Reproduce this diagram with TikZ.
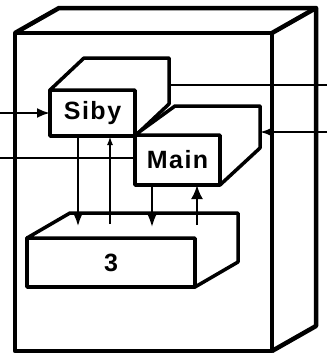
\documentclass[tikz,border=0pt]{standalone}
\usepackage{fontspec}
\setmainfont{Liberation Sans}
\usetikzlibrary{arrows.meta,calc}
\begin{document}
\begin{tikzpicture}[x=1pt,y=-1pt,
  face/.style={draw,fill=white,line width=3.5pt,inner sep=0pt,outer sep=0pt,line join=round},
  outerface/.style={draw,line width=4.5pt,inner sep=0pt,outer sep=0pt,line join=round},
  conn/.style={line width=2.5pt},
  head/.style={-{Latex[length=13pt,width=10pt]}},
  lbl/.style={font=\fontsize{25}{25}\selectfont\bfseries\addfontfeature{LetterSpace=6}}
]
\useasboundingbox (0,0) rectangle (327,359);
% outer box
\node[outerface,minimum width=257pt,minimum height=318pt] (outer) at (143.5,192) {};
\draw[line width=4.5pt,line join=round] (outer.north west) -- ++(44,-25) -- ($(outer.north east)+(44,-25)$) -- ($(outer.south east)+(44,-25)$) -- (outer.south east);
\draw[line width=4.5pt] (outer.north east) -- ++(44,-25);
% box 3
\node[face,minimum width=168pt,minimum height=49pt,lbl] (three) at (111,262.5) {3};
\filldraw[fill=white,line width=3.5pt,line join=round] (three.north west) -- ++(43,-25) -- ($(three.north east)+(43,-25)$) -- ($(three.south east)+(43,-25)$) -- (three.south east) -- (three.north east) -- cycle;
% Siby
\node[face,minimum width=85pt,minimum height=46pt,lbl] (siby) at (92.5,113) {Siby};
\filldraw[fill=white,line width=3.5pt,line join=round] (siby.north west) -- ++(34,-32) -- ($(siby.north east)+(34,-32)$) -- ($(siby.south east)+(34,-32)$) -- (siby.south east) -- (siby.north east) -- cycle;
% Main
\node[face,minimum width=85pt,minimum height=50pt,lbl] (main) at (177.5,160) {Main};
\filldraw[fill=white,line width=3.5pt,line join=round] (main.north west) -- ++(40,-29) -- ($(main.north east)+(40,-29)$) -- ($(main.south east)+(40,-37)$) -- (main.south east) -- (main.north east) -- cycle;
% connectors
\coordinate (lin1) at (0,113);
\coordinate (lin2) at (0,158);
\coordinate (rout) at (327,85);
\coordinate (rin) at (327,132);
\coordinate (sibyback) at ($(siby.north east)+(34,0)$);
\coordinate (mainback) at ($(main.north east)+(40,0)$);
\draw[conn,head] (lin1) -- (siby.west);
\draw[conn] (lin2) -- (lin2 -| main.west);
\draw[conn] (sibyback |- rout) -- (rout);
\draw[conn,head] (rin) -- (rin -| mainback);
\coordinate (d1) at (78,227);
\coordinate (u1) at (110,224);
\coordinate (d2) at (152,227);
\coordinate (u2) at (197,225);
\draw[conn,-{Latex[length=12pt,width=8pt]}] (d1 |- siby.south) -- (d1);
\draw[conn,-{Latex[length=9pt,width=6pt]}] (u1) -- (u1 |- siby.south);
\draw[conn,-{Latex[length=15pt,width=12pt]}] (d2 |- main.south) -- (d2);
\draw[conn,-{Latex[length=14pt,width=12pt]}] (u2) -- (u2 |- main.south);
\end{tikzpicture}
\end{document}
